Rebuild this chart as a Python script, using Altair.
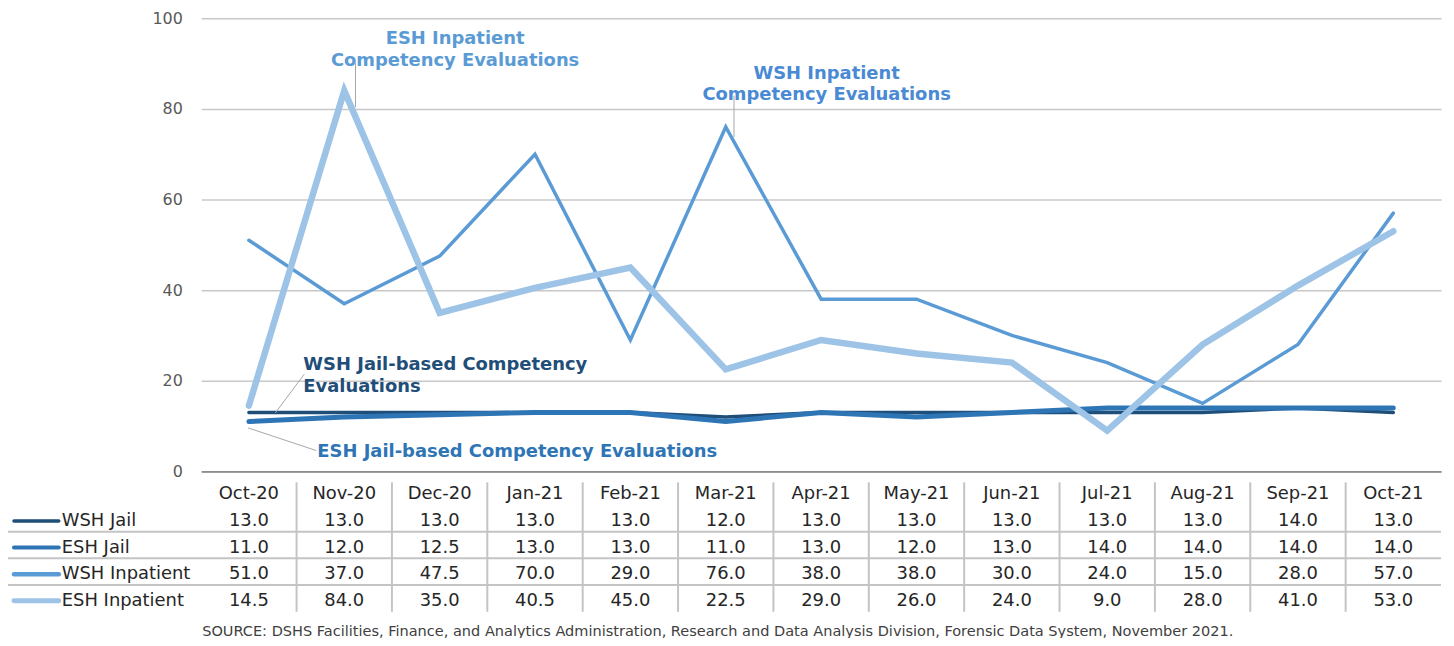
import altair as alt
import pandas as pd

# ---------------- data ----------------
months = ["Oct-20", "Nov-20", "Dec-20", "Jan-21", "Feb-21", "Mar-21", "Apr-21",
          "May-21", "Jun-21", "Jul-21", "Aug-21", "Sep-21", "Oct-21"]
series_names = ["WSH Jail", "ESH Jail", "WSH Inpatient", "ESH Inpatient"]
wsh_jail = [13.0, 13.0, 13.0, 13.0, 13.0, 12.0, 13.0, 13.0, 13.0, 13.0, 13.0, 14.0, 13.0]
esh_jail = [11.0, 12.0, 12.5, 13.0, 13.0, 11.0, 13.0, 12.0, 13.0, 14.0, 14.0, 14.0, 14.0]
wsh_inpatient = [51.0, 37.0, 47.5, 70.0, 29.0, 76.0, 38.0, 38.0, 30.0, 24.0, 15.0, 28.0, 57.0]
esh_inpatient = [14.5, 84.0, 35.0, 40.5, 45.0, 22.5, 29.0, 26.0, 24.0, 9.0, 28.0, 41.0, 53.0]
y_ticks = [0, 20, 40, 60, 80, 100]
header_row = "Month"
source_note = ("SOURCE: DSHS Facilities, Finance, and Analytics Administration, Research and Data "
               "Analysis Division, Forensic Data System, November 2021.")

# ---------------- styles ----------------
colors = ["#1f4e79", "#2e75b6", "#5b9bd5", "#9dc3e6"]
widths = [3.5, 5, 3.5, 6.5]
FONT = "DejaVu Sans"
W, H = 1245, 455
step = W / len(months)

values = [wsh_jail, esh_jail, wsh_inpatient, esh_inpatient]
long_df = pd.DataFrame(
    [{"series": s, "month": m, "value": v}
     for s, vals in zip(series_names, values) for m, v in zip(months, vals)]
)

x_scale = alt.Scale(type="point", domain=months, padding=0.5)
y_scale = alt.Scale(domain=[0, 100])
y_axis = alt.Axis(values=y_ticks, title=None, ticks=False, domain=False, grid=True,
                  gridColor="#c8c8c8", gridWidth=1.5, labelFontSize=16,
                  labelColor="#595959", labelPadding=19, labelFont=FONT)
x_axis = alt.Axis(title=None, labels=False, ticks=False, grid=False, domain=True,
                  domainColor="#8c8c8c", domainWidth=2)


def X(field="month"):
    return alt.X(f"{field}:N", scale=x_scale, axis=x_axis)


def Y(field="value"):
    return alt.Y(f"{field}:Q", scale=y_scale, axis=y_axis)


# ---------------- main lines ----------------
main_layers = []
for s, c, w in zip(series_names, colors, widths):
    main_layers.append(
        alt.Chart(long_df[long_df.series == s]).mark_line(
            color=c, strokeWidth=w, strokeCap="round", strokeJoin="miter"
        ).encode(x=X(), y=Y())
    )

# ---------------- annotations ----------------
annotations = [
    (["ESH Inpatient", "Competency Evaluations"], "Nov-20", 94.3, 111.3, "center", "#5b9bd5"),
    (["WSH Inpatient", "Competency Evaluations"], "Mar-21", 86.7, 101.3, "center", "#4a8ad4"),
    (["WSH Jail-based Competency", "Evaluations"], "Oct-20", 22.4, 54.7, "left", "#1f4e79"),
    (["ESH Jail-based Competency Evaluations"], "Oct-20", 3.2, 68.7, "left", "#2e75b6"),
]
for lines, m, v, dx, align, col in annotations:
    df = pd.DataFrame([{"month": m, "value": v, "label": lines}])
    main_layers.append(
        alt.Chart(df).mark_text(
            align=align, baseline="alphabetic", dx=dx, fontSize=18, fontWeight="bold",
            color=col, lineHeight=22, font=FONT
        ).encode(x=X(), y=Y(), text="label")
    )

leaders = [
    ("Nov-20", 90.1, 80.4, 11.3, 11.3),
    ("Mar-21", 82.9, 73.8, 8.3, 8.3),
    ("Oct-20", 21.4, 12.9, 55.4, 26.6),
    ("Oct-20", 9.6, 4.6, -0.8, 67.6),
]
for m, v1, v2, o1, o2 in leaders:
    df = pd.DataFrame([{"month": m, "value": v1, "value2": v2}])
    main_layers.append(
        alt.Chart(df).mark_rule(color="#a6a6a6", strokeWidth=1, xOffset=o1, x2Offset=o2).encode(
            x=X(), x2=alt.X2("month"), y=Y(), y2=alt.Y2("value2")
        )
    )

main = alt.layer(*main_layers)

# ---------------- data table ----------------
row_domain = [header_row] + series_names
row_scale = alt.Scale(type="point", domain=row_domain, range=[478, 585], padding=0)


def R():
    return alt.Y("row:N", scale=row_scale, axis=None)


header_df = pd.DataFrame({"month": months, "row": header_row})
cells_df = long_df.rename(columns={"series": "row"})
rows_df = pd.DataFrame({"row": series_names})
sep_df = pd.DataFrame({"row": series_names[1:]})
div_df = pd.DataFrame({"month": months[1:]})

table_text = dict(fontSize=18, color="#262626", font=FONT, baseline="middle")
table_layers = [
    alt.Chart(div_df).mark_rule(color="#c4c4c4", strokeWidth=2, xOffset=-step / 2).encode(
        x=X(), y=alt.value(466), y2=alt.value(596)
    ),
    alt.Chart(sep_df).mark_rule(color="#c4c4c4", strokeWidth=2, yOffset=-16).encode(
        x=alt.value(-194), x2=alt.value(W), y=R()
    ),
    alt.Chart(header_df).mark_text(align="center", **table_text).encode(
        x=X(), y=R(), text="month:N"
    ),
    alt.Chart(cells_df).mark_text(align="center", **table_text).encode(
        x=X(), y=R(), text=alt.Text("value:Q", format=".1f")
    ),
    alt.Chart(rows_df).mark_text(align="left", **table_text).encode(
        x=alt.value(-140), y=R(), text="row:N"
    ),
    alt.Chart(rows_df).mark_rule(strokeCap="round").encode(
        x=alt.value(-188), x2=alt.value(-143), y=R(),
        color=alt.Color("row:N", scale=alt.Scale(domain=series_names, range=colors), legend=None),
        strokeWidth=alt.StrokeWidth("row:N", scale=alt.Scale(domain=series_names, range=widths),
                                    legend=None),
    ),
    alt.Chart(pd.DataFrame({"note": [source_note]})).mark_text(
        align="left", baseline="middle", fontSize=14.6, color="#404040", font=FONT
    ).encode(x=alt.value(1), y=alt.value(616), text="note:N"),
]
table = alt.layer(*table_layers)

chart = alt.layer(main, table).resolve_scale(
    y="independent", color="independent", strokeWidth="independent"
).properties(
    width=W, height=H,
    background="white",
    autosize=alt.AutoSizeParams(type="none"),
    padding={"left": 194, "top": 9, "right": 5, "bottom": 166},
).configure_view(strokeWidth=0, stroke="transparent")

chart.save("out.html", embed_options={"renderer": "svg", "actions": False})
